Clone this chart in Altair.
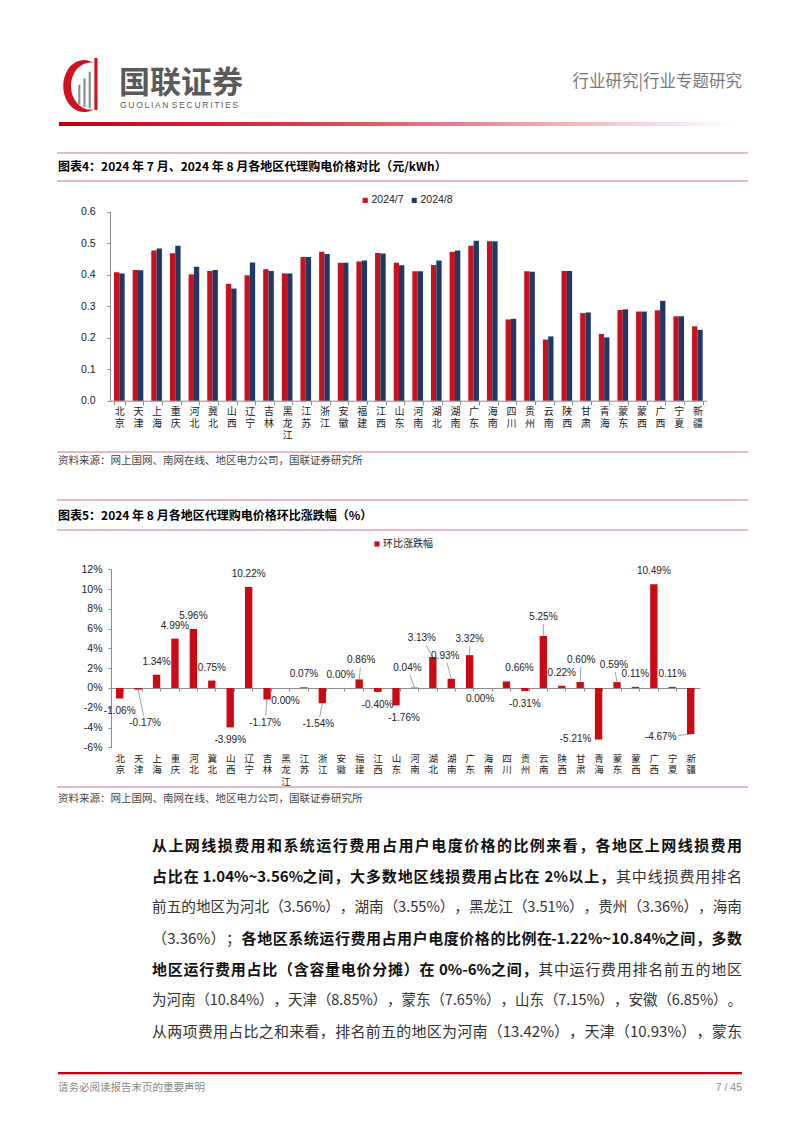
import math
import altair as alt
import pandas as pd

# ---------------- data ----------------
regions = ["北京", "天津", "上海", "重庆", "河北", "冀北", "山西", "辽宁", "吉林", "黑龙江",
           "江苏", "浙江", "安徽", "福建", "江西", "山东", "河南", "湖北", "湖南", "广东",
           "海南", "四川", "贵州", "云南", "陕西", "甘肃", "青海", "蒙东", "蒙西", "广西",
           "宁夏", "新疆"]
series = ["2024/7", "2024/8"]
price_jul = [0.408, 0.415, 0.477, 0.468, 0.401, 0.412, 0.371, 0.398, 0.417, 0.404,
             0.456, 0.473, 0.438, 0.442, 0.469, 0.438, 0.411, 0.431, 0.473, 0.492,
             0.506, 0.258, 0.411, 0.194, 0.412, 0.278, 0.212, 0.288, 0.283, 0.287,
             0.268, 0.236]
price_aug = [0.404, 0.414, 0.483, 0.492, 0.425, 0.415, 0.356, 0.439, 0.412, 0.404,
             0.456, 0.466, 0.438, 0.445, 0.467, 0.430, 0.411, 0.445, 0.477, 0.508,
             0.506, 0.260, 0.409, 0.204, 0.412, 0.280, 0.201, 0.290, 0.283, 0.317,
             0.268, 0.225]
mom_name = "环比涨跌幅"
mom_change = [-1.06, -0.17, 1.34, 4.99, 5.96, 0.75, -3.99, 10.22, -1.17, 0.00,
              0.07, -1.54, 0.00, 0.86, -0.40, -1.76, 0.04, 3.13, 0.93, 3.32,
              0.00, 0.66, -0.31, 5.25, 0.22, 0.60, -5.21, 0.59, 0.11, 10.49,
              0.11, -4.67]
y1_ticks = [0.0, 0.1, 0.2, 0.3, 0.4, 0.5, 0.6]
y2_ticks = [-6, -4, -2, 0, 2, 4, 6, 8, 10, 12]

# ---------------- layout / style ----------------
W, H = 786, 1117
CJK = "Noto Sans CJK SC"
LAT = "Liberation Sans"
RED1, BLUE1, RED2 = "#C8101E", "#1F3864", "#CC0A14"
AX = "#8c8c8c"
PINK = "#DFA3BA"

X1_RANGE = [102, 698.7]
Y1_RANGE = [392.7, 203.7]
X2_RANGE = [102.5, 691.9]
Y2_RANGE = [739.3, 561.3]
Y2_ZERO_PX = 680.0

# label nudges for chart 2 (pixels: right, down) relative to the default spot
label_nudge = {"天津": (7, 20), "黑龙江": (0, 26), "吉林": (-2, 10), "浙江": (-4, 8),
               "福建": (2, -6), "山东": (8, 0), "河南": (-7, -7), "湖北": (-11, -6),
               "湖南": (-6, -10), "广东": (0, -3), "海南": (-8, 24), "四川": (13, 0),
               "云南": (0, -6), "甘肃": (1, -9), "青海": (-23, -13), "蒙东": (-3, -4),
               "新疆": (-30, -10)}
leader_regions = ["天津", "吉林", "浙江", "福建", "河南", "湖北", "湖南", "广东",
                  "云南", "甘肃", "蒙东", "新疆"]

ONE = pd.DataFrame({"k": [0]})


def txt(s, x, y, size, color="#000", weight="normal", align="left", font=CJK, baseline="middle"):
    return alt.Chart(ONE).mark_text(
        fontSize=size, color=color, fontWeight=weight, align=align, font=font, baseline=baseline
    ).encode(x=alt.value(x), y=alt.value(y), text=alt.value(s))


def hline(x1, x2, y, color, width=1.0):
    return alt.Chart(ONE).mark_rule(color=color, strokeWidth=width).encode(
        x=alt.value(x1), x2=alt.value(x2), y=alt.value(y))


layers = []

# ---------------- header ----------------
crescent = ("M0.35,-0.9 A0.8,1,0,1,0,0.35,0.9 A0.75,0.908,0,1,1,0.35,-0.9 Z")
gray_bars = ("M-0.22,0.72 L-0.14,0.72 L-0.14,-0.05 L-0.22,-0.05 Z "
             "M-0.02,0.8 L0.06,0.8 L0.06,-0.3 L-0.02,-0.3 Z "
             "M0.18,0.86 L0.26,0.86 L0.26,-0.55 L0.18,-0.55 Z")
red_bar = "M0.40,0.92 L0.52,0.92 L0.52,-1.08 L0.40,-1.08 Z"
for shape, col in [(crescent, "#D0101E"), (gray_bars, "#8a8a8a"), (red_bar, "#D0101E")]:
    layers.append(alt.Chart(ONE).mark_point(shape=shape, filled=True, color=col, opacity=1,
                                            size=2704, strokeWidth=0).encode(
        x=alt.value(76), y=alt.value(78)))

layers.append(txt("国联证券", 111, 75.5, 31, color="#5a5a5a", weight="bold"))
layers.append(txt("\u2009".join("GUOLIAN") + "\u2009\u2009" + "\u2009".join("SECURITIES"),
                  112, 96.5, 8.5, color="#5a5a5a", font=LAT))
layers.append(txt("行业研究|行业专题研究", 734, 74, 16.5, color="#7a7a7a", align="right"))

grad = alt.Gradient(gradient="linear", x1=0, x2=1, y1=0, y2=0,
                    stops=[alt.GradientStop(color="#C00010", offset=0),
                           alt.GradientStop(color="#D63A48", offset=0.35),
                           alt.GradientStop(color="#F2C4CA", offset=0.8),
                           alt.GradientStop(color="#FFFFFF", offset=1)])
layers.append(alt.Chart(ONE).mark_rect(color=grad).encode(
    x=alt.value(51), x2=alt.value(729), y=alt.value(114), y2=alt.value(118)))

# ---------------- chart 1 frame ----------------
layers.append(hline(49, 740, 145, PINK, 1.5))
layers.append(hline(49, 740, 173, PINK, 1.5))
layers.append(txt("图表4：2024 年 7 月、2024 年 8 月各地区代理购电价格对比（元/kWh）", 50, 159, 12,
                  weight="bold"))
layers.append(hline(49, 740, 444, PINK, 1.5))
layers.append(txt("资料来源：网上国网、南网在线、地区电力公司，国联证券研究所", 50, 453, 10.5, color="#444"))

df1 = pd.DataFrame({
    "region": regions * 2,
    "series": [series[0]] * len(regions) + [series[1]] * len(regions),
    "value": price_jul + price_aug,
})

bars1 = alt.Chart(df1).mark_bar().encode(
    x=alt.X("region:N", sort=regions,
            scale=alt.Scale(domain=regions, range=X1_RANGE, paddingInner=0.43, paddingOuter=0.215),
            axis=alt.Axis(orient="bottom", offset=Y1_RANGE[0] - H, title=None, labelAngle=0,
                          labelExpr="split(datum.label, '')", labelLineHeight=12,
                          labelBaseline="top", labelPadding=2, tickSize=4, tickBand="extent",
                          domainColor=AX, tickColor=AX, labelFont=CJK, labelFontSize=10,
                          labelColor="#222", grid=False)),
    xOffset=alt.XOffset("series:N", scale=alt.Scale(domain=series, paddingInner=0)),
    y=alt.Y("value:Q",
            scale=alt.Scale(domain=[0, 0.6], range=Y1_RANGE, nice=False),
            axis=alt.Axis(orient="left", offset=-102, values=y1_ticks, format=".1f", title=None,
                          tickSize=3, labelPadding=12, domainColor=AX, tickColor=AX,
                          labelFont=LAT, labelFontSize=10.5, labelColor="#222", grid=False)),
    color=alt.Color("series:N",
                    scale=alt.Scale(domain=series, range=[RED1, BLUE1]),
                    legend=alt.Legend(orient="none", legendX=352, legendY=187, direction="horizontal",
                                      title=None, symbolType="square", symbolSize=26,
                                      symbolStrokeWidth=0, labelFontSize=10.5, labelFont=LAT,
                                      labelOffset=1, columnPadding=5, padding=0,
                                      labelColor="#222")),
)
layers.append(bars1)

# ---------------- chart 2 frame ----------------
layers.append(hline(49, 740, 492, PINK, 1.5))
layers.append(hline(49, 740, 522, PINK, 1.5))
layers.append(txt("图表5：2024 年 8 月各地区代理购电价格环比涨跌幅（%）", 50, 508, 12, weight="bold"))
layers.append(hline(49, 740, 779, PINK, 1.5))
layers.append(txt("资料来源：网上国网、南网在线、地区电力公司，国联证券研究所", 50, 791, 10.5, color="#444"))

STEP2 = (X2_RANGE[1] - X2_RANGE[0]) / len(regions)
PPP = (Y2_RANGE[0] - Y2_RANGE[1]) / (12 - (-6))

rows_lab, rows_lead = [], []
for i, (r, v) in enumerate(zip(regions, mom_change)):
    base = -13 if v >= 0 else 13
    dx, dy = label_nudge.get(r, (0, 0))
    ox, oy = dx, base + dy
    cx = i + 0.5
    rows_lab.append({"lx": cx + ox / STEP2, "ly": v - oy / PPP, "label": f"{v:.2f}%"})
    if r in leader_regions:
        n = math.hypot(ox, oy)
        ux, uy = -ox / n, -oy / n
        rr = 1 / math.sqrt((ux / 18) ** 2 + (uy / 7) ** 2)
        ex, ey = ox + ux * rr, oy + uy * rr
        rows_lead.append({"x0": cx, "y0": v, "x1": cx + ex / STEP2, "y1": v - ey / PPP})
df_lab = pd.DataFrame(rows_lab)
df_lead = pd.DataFrame(rows_lead)
df2 = pd.DataFrame({"region": regions, "change": mom_change, "series": [mom_name] * len(regions)})

qx2 = alt.Scale(domain=[0, len(regions)], range=X2_RANGE, nice=False, zero=False)
qy2 = alt.Scale(domain=[-6, 12], range=Y2_RANGE, nice=False, zero=False)

leaders = alt.Chart(df_lead).mark_rule(color="#8c8c8c", strokeWidth=0.8).encode(
    x=alt.X("x0:Q", scale=qx2, axis=None), x2="x1:Q",
    y=alt.Y("y0:Q", scale=qy2, axis=None), y2="y1:Q")
layers.append(leaders)

bars2 = alt.Chart(df2).mark_bar().encode(
    x=alt.X("region:N", sort=regions,
            scale=alt.Scale(domain=regions, range=X2_RANGE, paddingInner=0.6, paddingOuter=0.3),
            axis=alt.Axis(orient="bottom", offset=Y2_ZERO_PX - H, title=None, labelAngle=0,
                          labelExpr="split(datum.label, '')", labelLineHeight=11.5,
                          labelBaseline="top", labelPadding=62, tickSize=3, tickBand="extent",
                          domainColor=AX, tickColor=AX, labelFont=CJK, labelFontSize=9.5,
                          labelColor="#222", grid=False)),
    y=alt.Y("change:Q", scale=alt.Scale(domain=[-6, 12], range=Y2_RANGE, nice=False),
            axis=alt.Axis(orient="left", offset=-103, values=y2_ticks, labelExpr="datum.value + '%'",
                          title=None, tickSize=3, labelPadding=6, domainColor=AX, tickColor=AX,
                          labelFont=LAT, labelFontSize=10.5, labelColor="#222", grid=False)),
    color=alt.Color("series:N", scale=alt.Scale(domain=[mom_name], range=[RED2]),
                    legend=alt.Legend(orient="none", legendX=364, legendY=531, title=None,
                                      symbolType="square", symbolSize=26, symbolStrokeWidth=0,
                                      labelFontSize=10, labelFont=CJK, labelOffset=1, padding=0,
                                      labelColor="#222")),
)
layers.append(bars2)

labels2 = alt.Chart(df_lab).mark_text(font=LAT, fontSize=10, color="#222", baseline="middle").encode(
    x=alt.X("lx:Q", scale=qx2, axis=None),
    y=alt.Y("ly:Q", scale=qy2, axis=None),
    text="label:N")
layers.append(labels2)

# ---------------- body text (justified, glyph by glyph) ----------------
XL, XR = 144, 734
Y0, DY = 838, 31
BASE = 15.0
body = [
    [("从上网线损费用和系统运行费用占用户电度价格的比例来看，各地区上网线损费用", "bold")],
    [("占比在 1.04%~3.56%之间，大多数地区线损费用占比在 2%以上，", "bold"), ("其中线损费用排名", "normal")],
    [("前五的地区为河北（3.56%），湖南（3.55%），黑龙江（3.51%），贵州（3.36%），海南", "normal")],
    [("（3.36%）；", "normal"), ("各地区系统运行费用占用户电度价格的比例在-1.22%~10.84%之间，多数", "bold")],
    [("地区运行费用占比（含容量电价分摊）在 0%-6%之间，", "bold"), ("其中运行费用排名前五的地区", "normal")],
    [("为河南（10.84%），天津（8.85%），蒙东（7.65%），山东（7.15%），安徽（6.85%）。", "normal")],
    [("从两项费用占比之和来看，排名前五的地区为河南（13.42%），天津（10.93%），蒙东", "normal")],
]


def em_width(s, bold):
    w = 0.0
    for ch in s:
        if ord(ch) >= 0x2E80:
            w += 1.0
        elif ch.isdigit():
            w += 0.58 if bold else 0.555
        elif ch == "%":
            w += 0.92 if bold else 0.885
        elif ch == ".":
            w += 0.29 if bold else 0.275
        elif ch == "~":
            w += 0.6
        elif ch == "-":
            w += 0.36
        elif ch == " ":
            w += 0.3
        else:
            w += 0.6
    return w


def tokens(s):
    out, run = [], ""
    for ch in s:
        if ord(ch) >= 0x2E80:
            if run:
                out.append(run)
                run = ""
            out.append(ch)
        else:
            run += ch
    if run:
        out.append(run)
    return out


span = XR - XL
rows_body = []
for k, segs in enumerate(body):
    toks = []
    for s, wgt in segs:
        for t in tokens(s):
            lead = len(t) - len(t.lstrip(" "))
            core = t.strip(" ")
            b = wgt == "bold"
            toks.append((core, wgt, em_width(" " * lead, b), em_width(core, b)))
    total_em = sum(t[2] + t[3] for t in toks)
    size = min(BASE, span / total_em)
    gap = (span - total_em * size) / max(1, len(toks) - 1)
    x = XL
    for core, wgt, e_lead, e_core in toks:
        x += e_lead * size
        w = e_core * size
        rows_body.append({"t": core, "wgt": wgt, "px": x + w / 2, "py": Y0 + DY * k, "fs": size})
        x += w + gap
df_body = pd.DataFrame(rows_body)

for wgt, col in [("bold", "#111"), ("normal", "#333")]:
    layers.append(alt.Chart(df_body).transform_filter(alt.datum.wgt == wgt).mark_text(
        font=CJK, fontWeight=wgt, color=col, align="center", baseline="middle").encode(
        x=alt.X("px:Q", scale=None, axis=None),
        y=alt.Y("py:Q", scale=None, axis=None),
        size=alt.Size("fs:Q", scale=None, legend=None),
        text="t:N"))

# ---------------- footer ----------------
layers.append(hline(50, 734, 1065, "#C00010", 2))
layers.append(hline(50, 734, 1066.5, "#F0B8C0", 1))
layers.append(txt("请务必阅读报告末页的重要声明", 50, 1080, 10.5, color="#8a8a8a"))
layers.append(txt("7 / 45", 734, 1080, 10.5, color="#8a8a8a", align="right", font=LAT))

chart = alt.layer(*layers).resolve_scale(
    x="independent", y="independent", color="independent", size="independent"
).properties(
    width=W, height=H, autosize=alt.AutoSizeParams(type="none"), padding=0
).configure(background="white").configure_view(stroke=None)

chart.save("out.html", embed_options={"renderer": "svg", "actions": False})
